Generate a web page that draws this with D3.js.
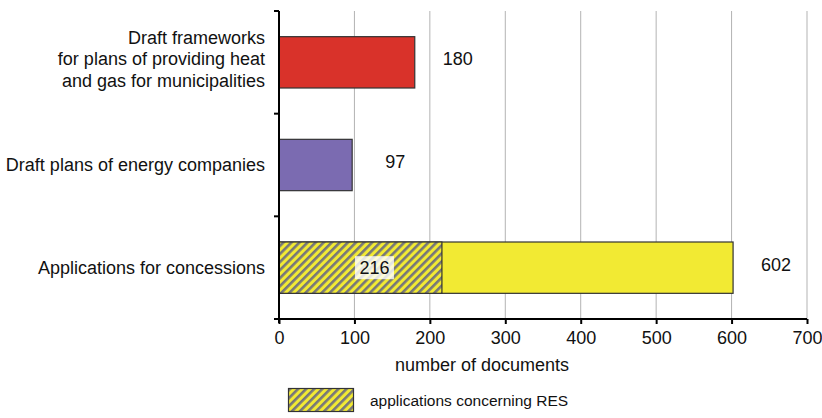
<!DOCTYPE html>
<html>
<head>
<meta charset="utf-8">
<script src="https://cdn.jsdelivr.net/npm/d3@7/dist/d3.min.js"></script>
<style>
  html, body { margin: 0; padding: 0; background: #fff; }
  svg { display: block; font-family: Arial, "Liberation Sans", Helvetica, sans-serif; }
</style>
</head>
<body>
<svg id="chart" width="822" height="418"></svg>
<script>
// Document counts by category
const categories = [
  ["Draft frameworks", "for plans of providing heat", "and gas for municipalities"],
  ["Draft plans of energy companies"],
  ["Applications for concessions"]
];
const categoryKeys = ["frameworks", "plans", "applications"];
const totals = [180, 97, 602];
const resShare = [null, null, 216];   // applications concerning RES (subset)
const barColors = ["#d9322a", "#7b6bb1", "#f2ea33"];
const xTicks = [0, 100, 200, 300, 400, 500, 600, 700];
const xTitle = "number of documents";
const legendLabel = "applications concerning RES";

(function () {
const svg = d3.select("#chart");
const plotLeft = 279, plotRight = 807, plotTop = 11, plotBottom = 319;
const fs = 18;

const x = d3.scaleLinear().domain([0, 700]).range([plotLeft, plotRight]);
const y = d3.scaleBand().domain(categoryKeys).range([plotTop, plotBottom])
  .paddingInner(0.5).paddingOuter(0.25);

// hatch pattern
const defs = svg.append("defs");
const pat = defs.append("pattern")
  .attr("id", "hatch")
  .attr("patternUnits", "userSpaceOnUse")
  .attr("width", 5.7).attr("height", 5.7)
  .attr("patternTransform", "rotate(45)");
pat.append("rect").attr("width", 5.7).attr("height", 5.7).attr("fill", "#f2ea33");
pat.append("rect").attr("width", 2.6).attr("height", 5.7).attr("fill", "#76767a");

// vertical grid lines
svg.append("g").selectAll("line")
  .data(xTicks.filter(d => d > 0))
  .join("line")
  .attr("x1", d => x(d)).attr("x2", d => x(d))
  .attr("y1", plotTop).attr("y2", plotBottom)
  .attr("stroke", "#b3b3b3").attr("stroke-width", 1);

// bars
const rows = categoryKeys.map((k, i) => ({ key: k, total: totals[i], res: resShare[i], color: barColors[i], label: categories[i] }));

svg.append("g").selectAll("rect")
  .data(rows)
  .join("rect")
  .attr("x", x(0))
  .attr("y", d => y(d.key))
  .attr("width", d => x(d.total) - x(0))
  .attr("height", y.bandwidth())
  .attr("fill", d => d.color)
  .attr("stroke", "#333")
  .attr("stroke-width", 1.2);

// hatched RES subset
const resRows = rows.filter(d => d.res != null);
svg.append("g").selectAll("rect")
  .data(resRows)
  .join("rect")
  .attr("x", x(0))
  .attr("y", d => y(d.key))
  .attr("width", d => x(d.res) - x(0))
  .attr("height", y.bandwidth())
  .attr("fill", "url(#hatch)")
  .attr("stroke", "#333")
  .attr("stroke-width", 1.2);

// value labels for totals
svg.append("g").selectAll("text")
  .data(rows)
  .join("text")
  .attr("x", d => x(d.total) + 43)
  .attr("y", d => y(d.key) + y.bandwidth() / 2 + 3)
  .attr("text-anchor", "middle")
  .attr("font-size", fs)
  .attr("fill", "#111")
  .text(d => d.total);

// RES value label with light backing
const resG = svg.append("g").selectAll("g")
  .data(resRows)
  .join("g")
  .attr("transform", d => `translate(${(x(0) + x(d.res)) / 2 + 14},${y(d.key) + y.bandwidth() / 2})`);
resG.append("rect")
  .attr("x", -19.5).attr("y", -11.5).attr("width", 39).attr("height", 23)
  .attr("fill", "#fff").attr("fill-opacity", 0.8);
resG.append("text")
  .attr("y", 6)
  .attr("text-anchor", "middle")
  .attr("font-size", fs)
  .attr("fill", "#111")
  .text(d => d.res);

// y axis line and band boundary ticks
svg.append("line")
  .attr("x1", plotLeft).attr("x2", plotLeft)
  .attr("y1", plotTop).attr("y2", plotBottom + 4)
  .attr("stroke", "#000").attr("stroke-width", 2);
svg.append("g").selectAll("line")
  .data(d3.range(categoryKeys.length + 1))
  .join("line")
  .attr("x1", plotLeft - 5).attr("x2", plotLeft)
  .attr("y1", i => plotTop + i * (plotBottom - plotTop) / categoryKeys.length)
  .attr("y2", i => plotTop + i * (plotBottom - plotTop) / categoryKeys.length)
  .attr("stroke", "#000").attr("stroke-width", 2);

// category labels
const catG = svg.append("g").selectAll("text")
  .data(rows)
  .join("text")
  .attr("text-anchor", "end")
  .attr("font-size", fs)
  .attr("fill", "#111")
  .attr("transform", d => `translate(265,${y(d.key) + y.bandwidth() / 2})`);
catG.selectAll("tspan")
  .data(d => d.label.map((t, i, arr) => ({ t, i, n: arr.length })))
  .join("tspan")
  .attr("x", 0)
  .attr("y", o => o.n === 1 ? 6 : 3 + (o.i - (o.n - 1) / 2) * 21.5)
  .text(o => o.t);

// x axis
const xAxis = d3.axisBottom(x).tickValues(xTicks).tickSize(5).tickPadding(7).tickSizeOuter(0);
const xg = svg.append("g")
  .attr("transform", `translate(0,${plotBottom})`)
  .call(xAxis);
xg.select(".domain").attr("stroke", "#000").attr("stroke-width", 2)
  .attr("d", `M${plotLeft - 4},0H${plotRight}`);
xg.selectAll(".tick line").attr("stroke", "#000").attr("stroke-width", 2);
xg.selectAll(".tick text")
  .attr("font-size", fs)
  .attr("font-family", "Arial, 'Liberation Sans', sans-serif")
  .attr("fill", "#111");

// axis title
svg.append("text")
  .attr("x", 482).attr("y", 371)
  .attr("text-anchor", "middle")
  .attr("font-size", fs)
  .attr("fill", "#111")
  .text(xTitle);

// legend
svg.append("rect")
  .attr("x", 288.5).attr("y", 388.5).attr("width", 65).attr("height", 23)
  .attr("fill", "url(#hatch)")
  .attr("stroke", "#333").attr("stroke-width", 1.2);
svg.append("text")
  .attr("x", 370).attr("y", 406)
  .attr("font-size", 15.5)
  .attr("fill", "#111")
  .text(legendLabel);
})();
</script>
</body>
</html>
